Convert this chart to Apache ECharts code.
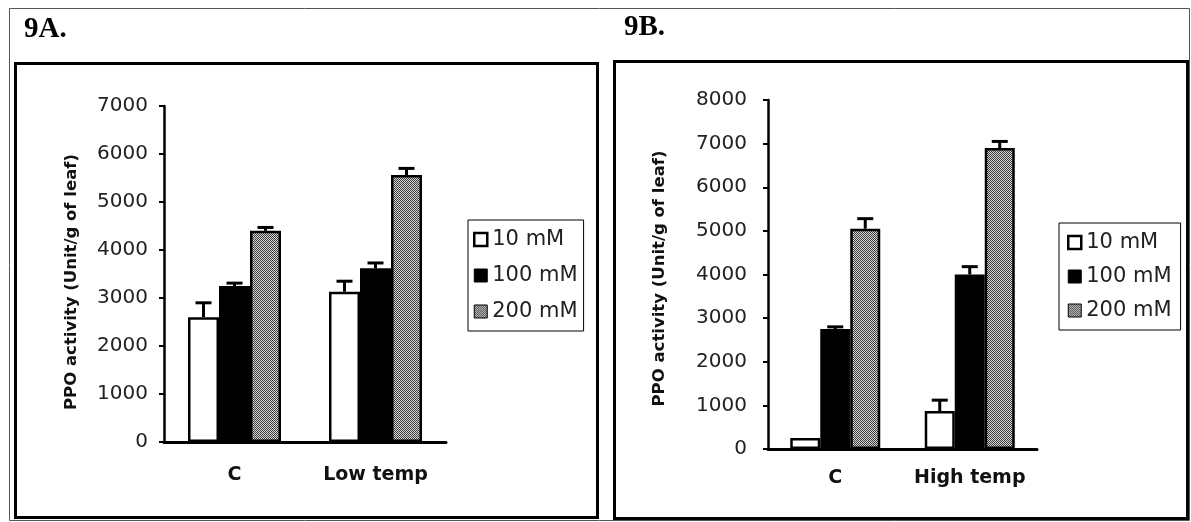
<!DOCTYPE html>
<html>
<head>
<meta charset="utf-8">
<script src="https://cdn.jsdelivr.net/npm/echarts@6/dist/echarts.min.js"></script>
<style>
  html, body { margin: 0; padding: 0; background: #fff; }
  #chart { width: 1191px; height: 522px; }
</style>
</head>
<body>
<div id="chart"></div>
<script>
// categories / series
const categoriesA = ['C', 'Low temp'];
const categoriesB = ['C', 'High temp'];
const seriesNames = ['10 mM', '100 mM', '200 mM'];

// 9A values (PPO activity) and upper error
const a10 = [2600, 3130];
const a100 = [3250, 3620];
const a200 = [4400, 5560];
const a10Err = [300, 220];
const a100Err = [60, 110];
const a200Err = [70, 140];

// 9B values
const b10 = [250, 870];
const b100 = [2750, 4000];
const b200 = [5050, 6900];
const b10Err = [0, 250];
const b100Err = [50, 180];
const b200Err = [230, 150];

// stipple pattern for the 200 mM bars
function makePattern() {
    var c = document.createElement('canvas');
    c.width = 4; c.height = 4;
    var ctx = c.getContext('2d');
    ctx.fillStyle = '#d8d8d8';
    ctx.fillRect(0, 0, 4, 4);
    ctx.fillStyle = '#3a3a3a';
    for (var y = 0; y < 4; y++) {
        for (var x = 0; x < 4; x++) {
            if ((x + y) % 2 === 0) ctx.fillRect(x, y, 1, 1);
        }
    }
    return c;
}
const stipple = { image: makePattern(), repeat: 'repeat' };

const fills = ['#ffffff', '#000000', stipple];
const tickFont = { fontFamily: 'DejaVu Sans', fontSize: 20, color: '#222' };

function barSeries(name, idx, data, axisIdx, bw) {
    return {
        name: name,
        type: 'bar',
        xAxisIndex: axisIdx,
        yAxisIndex: axisIdx,
        data: data,
        barWidth: bw,
        barGap: '0%',
        itemStyle: { color: fills[idx], borderColor: '#000', borderWidth: 2.5 },
        emphasis: { disabled: true },
        z: 2
    };
}

// error bars, only the upper half shows above the bar
function errSeries(vals, errs, axisIdx, bw) {
    var rows = [];
    for (var g = 0; g < vals.length; g++) {
        for (var k = 0; k < vals[g].length; k++) {
            rows.push([k, vals[g][k], errs[g][k], g]);
        }
    }
    return {
        type: 'custom',
        xAxisIndex: axisIdx,
        yAxisIndex: axisIdx,
        data: rows,
        z: 3,
        silent: true,
        renderItem: function (params, api) {
            var cat = api.value(0), v = api.value(1), e = api.value(2), g = api.value(3);
            if (!e) return null;
            var base = api.coord([cat, v]);
            var top = api.coord([cat, v + e]);
            var x = base[0] + (g - 1) * bw;
            var half = 8;
            var st = { stroke: '#000', lineWidth: 3 };
            return {
                type: 'group',
                children: [
                    { type: 'line', shape: { x1: x, y1: base[1], x2: x, y2: top[1] }, style: st },
                    { type: 'line', shape: { x1: x - half, y1: top[1], x2: x + half, y2: top[1] }, style: st }
                ]
            };
        }
    };
}

function legendData() {
    return [
        { name: seriesNames[0], icon: 'rect', itemStyle: { color: '#fff', borderColor: '#000', borderWidth: 2.5 } },
        { name: seriesNames[1], icon: 'rect', itemStyle: { color: '#000', borderColor: '#000', borderWidth: 1 } },
        { name: seriesNames[2], icon: 'rect', itemStyle: { color: stipple, borderColor: '#000', borderWidth: 1 } }
    ];
}

const yName = 'PPO activity (Unit/g of leaf)';

function yAxis(idx, max, margin, gap, namePad) {
    return {
        type: 'value',
        gridIndex: idx,
        min: 0,
        max: max,
        interval: 1000,
        name: yName,
        nameLocation: 'middle',
        nameGap: gap,
        nameTextStyle: { fontFamily: 'DejaVu Sans', fontWeight: 'bold', fontSize: 16.5, color: '#111', padding: namePad },
        axisLine: { show: true, lineStyle: { color: '#000', width: 2.5 } },
        axisTick: { show: true, length: 5, lineStyle: { color: '#000', width: 2 } },
        axisLabel: Object.assign({ margin: margin, formatter: function (v) { return String(v); } }, tickFont),
        splitLine: { show: false }
    };
}

function xAxis(idx, cats, margin) {
    return {
        type: 'category',
        gridIndex: idx,
        data: cats,
        axisLine: { show: true, lineStyle: { color: '#000', width: 3 } },
        axisTick: { show: false },
        axisLabel: { interval: 0, margin: margin, fontFamily: 'DejaVu Sans', fontWeight: 'bold', fontSize: 19, color: '#111' },
        splitLine: { show: false }
    };
}

const chart = echarts.init(document.getElementById('chart'));
const bwA = 31, bwB = 30;

const option = {
    animation: false,
    backgroundColor: '#fff',
    title: [
        { text: '9A.', left: 19, top: 10, textStyle: { fontFamily: 'Liberation Serif', fontWeight: 'bold', fontSize: 29, color: '#000' } },
        { text: '9B.', left: 619, top: 8, textStyle: { fontFamily: 'Liberation Serif', fontWeight: 'bold', fontSize: 29, color: '#000' } }
    ],
    grid: [
        { left: 164, right: 1191 - 446, top: 106, bottom: 522 - 442 },
        { left: 768, right: 1191 - 1037, top: 100, bottom: 522 - 449 }
    ],
    xAxis: [xAxis(0, categoriesA, 24), xAxis(1, categoriesB, 20)],
    yAxis: [yAxis(0, 7000, 16, 84, [0, 16, 0, 0]), yAxis(1, 8000, 21, 100, [0, 8, 0, 0])],
    legend: [
        {
            data: legendData(), orient: 'vertical', left: 468, top: 220,
            itemWidth: 13, itemHeight: 13, itemGap: 15,
            padding: [9, 6, 9, 5], borderColor: '#000', borderWidth: 1,
            textStyle: { fontFamily: 'DejaVu Sans', fontSize: 21, color: '#222' },
            selectedMode: false
        },
        {
            data: legendData(), orient: 'vertical', left: 1059, top: 223,
            itemWidth: 13, itemHeight: 13, itemGap: 13,
            padding: [9, 9, 9, 8], borderColor: '#000', borderWidth: 1,
            textStyle: { fontFamily: 'DejaVu Sans', fontSize: 21, color: '#222' },
            selectedMode: false
        }
    ],
    graphic: [
        { type: 'rect', shape: { x: 9.5, y: 8.5, width: 1180, height: 512 }, style: { fill: null, stroke: '#555', lineWidth: 1 }, silent: true },
        { type: 'rect', shape: { x: 15.5, y: 63.5, width: 582, height: 454 }, style: { fill: null, stroke: '#000', lineWidth: 3 }, silent: true },
        { type: 'rect', shape: { x: 614.5, y: 61.5, width: 573, height: 457 }, style: { fill: null, stroke: '#000', lineWidth: 3 }, silent: true }
    ],
    series: [
        barSeries(seriesNames[0], 0, a10, 0, bwA),
        barSeries(seriesNames[1], 1, a100, 0, bwA),
        barSeries(seriesNames[2], 2, a200, 0, bwA),
        errSeries([a10, a100, a200], [a10Err, a100Err, a200Err], 0, bwA),
        barSeries(seriesNames[0], 0, b10, 1, bwB),
        barSeries(seriesNames[1], 1, b100, 1, bwB),
        barSeries(seriesNames[2], 2, b200, 1, bwB),
        errSeries([b10, b100, b200], [b10Err, b100Err, b200Err], 1, bwB)
    ]
};
chart.setOption(option);
</script>
</body>
</html>
